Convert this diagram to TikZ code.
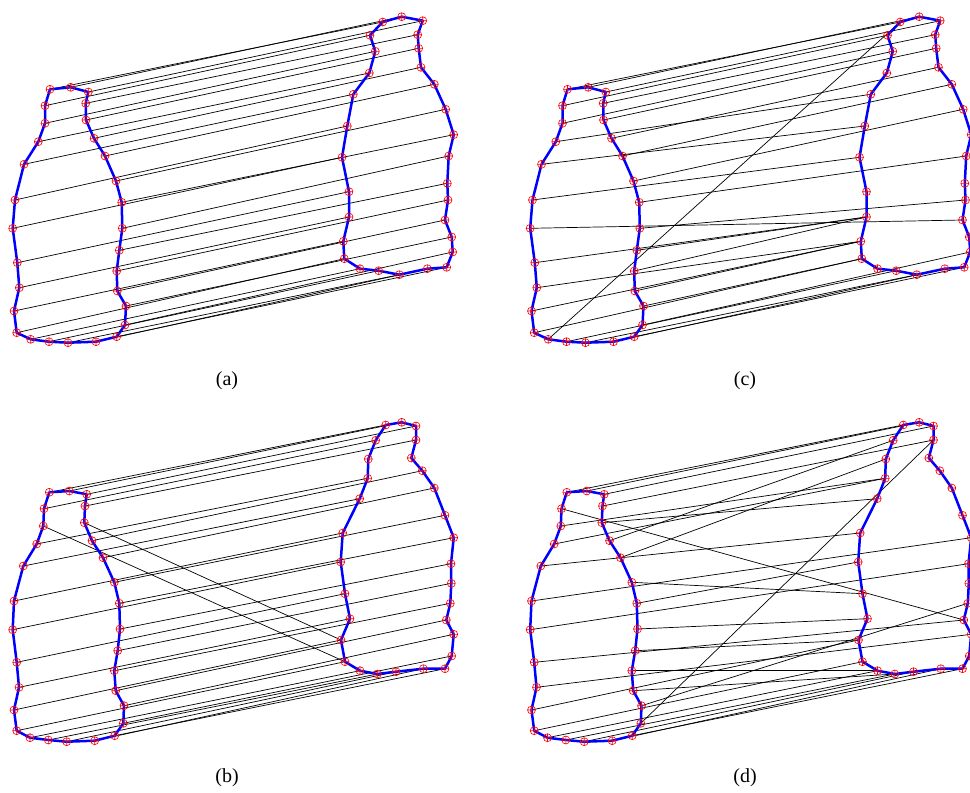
\documentclass[tikz,border=0pt]{standalone}
\usepackage{fontspec}
\setmainfont{Liberation Serif}
\begin{document}
\begin{tikzpicture}[x=1pt,y=-1pt,
  link/.style={black,line width=0.7pt},
  contour/.style={draw=blue,line width=2.5pt,line join=round},
  mk/.style={red,line width=0.6pt},
  lab/.style={font=\fontsize{20}{24}\selectfont,inner sep=0pt}]
\useasboundingbox (0,0) rectangle (970,793);
% panel (a)/(c) contours
\def\AL{50/89.3,70.7/87.3,88.3/92,85.7/103.3,86/120,94/138.3,105/156,116/181,121.7/202.3,122.3/228.3,119.3/250.3,116.7/271,117.3/291,126/306,125/325,116.7/336.7,96/341.7,68/342.7,49/341.7,30.7/339.3,16.7/332.7,14/311,19.3/287.7,17.3/262.7,12.7/228.3,15/200,24/164.3,38.3/141.7,45/123.3,45/105.7}
\def\AR{382.7/22,401.7/16.7,422.7/20.7,417.7/34.7,418.7/48.3,421/67.3,434.3/84.3,445.7/109.3,453.7/134.7,448.7/156,447.3/183.3,448/200,445/220,451.7/237,452.7/252,446.7/267.3,427.3/268.7,399.3/274.7,378.7/270.7,360/268.7,344.3/258.7,343.3/241.3,349/217,349/191.7,342/157.3,347.3/126,353.3/94.3,369.3/73,375.3/51.3,370/35.3}
\def\BL{49.3/492.3,69.3/491,86.7/494.3,85/506,84.3/522.7,92/540.7,103/557.7,114.3/582.3,119.3/603.3,120/629,117.7/650.7,114.3/670.7,115.7/690.7,124/705.7,123.3/723.3,114.7/735.7,94.7/740.7,66.7/741.7,48.3/740,30/737.7,16.7/730.7,14/710,19/687.3,16.7/662.3,12.7/629.7,14/601,23.3/566,36.7/544,43.3/526,44/508.7}
\def\BR{385.7/425,401.7/422.3,416/426,416/440,411.3/458,422.3/470.7,434.3/488,445/515.3,453.7/537.7,451/563.7,451.3/583.3,450.3/603.3,446.3/620,453.7/634.3,451.7/656,445/668.7,423.3/668.7,396/671.7,377.3/674,360/670.7,345/661.7,341/640,350/618.7,345/593.7,340.7/562,342.7/533,359.7/498.7,367.7/478.3,368.3/459,375.7/440.3}
\def\dx{517.5}
\foreach \x/\y [count=\i] in \AL {\coordinate (aL\i) at (\x,\y); \coordinate (cL\i) at (\x+\dx,\y);}
\foreach \x/\y [count=\i] in \AR {\coordinate (aR\i) at (\x,\y); \coordinate (cR\i) at (\x+\dx,\y);}
\foreach \x/\y [count=\i] in \BL {\coordinate (bL\i) at (\x,\y); \coordinate (dL\i) at (\x+\dx,\y);}
\foreach \x/\y [count=\i] in \BR {\coordinate (bR\i) at (\x,\y); \coordinate (dR\i) at (\x+\dx,\y);}
% connectors
\foreach \i in {1,...,30} \draw[link] (aL\i) -- (aR\i);
\foreach \i/\j in {1/1,2/2,3/3,4/4,5/22,6/6,7/7,8/8,9/9,10/10,11/11,12/12,13/13,14/14,15/15,16/16,17/17,18/18,19/19,20/20,21/21,22/22,23/23,24/24,25/25,26/26,27/27,28/28,29/21,30/30}
  \draw[link] (bL\i) -- (bR\j);
\foreach \i/\j in {1/1,2/2,3/3,4/4,5/5,6/6,7/7,8/8,9/10,10/12,11/23,12/23,13/22,14/21,15/15,16/16,17/17,18/18,19/19,20/1,21/21,22/22,23/22,24/23,25/13,26/25,27/26,28/27,29/29,30/30}
  \draw[link] (cL\i) -- (cR\j);
\foreach \i/\j in {1/1,2/2,3/3,4/4,5/27,6/30,7/29,8/24,9/25,10/23,11/22,12/20,13/19,14/12,15/4,16/16,17/17,18/18,19/19,20/20,21/21,22/22,23/14,24/13,25/10,26/9,27/26,28/28,29/28,30/13}
  \draw[link] (dL\i) -- (dR\j);
% contours and markers
\foreach \p in {aL,aR,bL,bR,cL,cR,dL,dR}{
  \draw[contour] (\p1) \foreach \i in {2,...,30}{ -- (\p\i)} -- cycle;
  \foreach \i in {1,...,30}
    \draw[mk] (\p\i) circle[radius=4pt] (\p\i) +(-4,0) -- +(4,0) (\p\i) +(0,-4) -- +(0,4);
}
% labels
\node[lab] (la) at (227,381) {(a)};
\node[lab] (lc) at (745,381) {(c)};
\node[lab] (lb) at (227,778) {(b)};
\node[lab] (ld) at (745,778) {(d)};
\end{tikzpicture}
\end{document}
